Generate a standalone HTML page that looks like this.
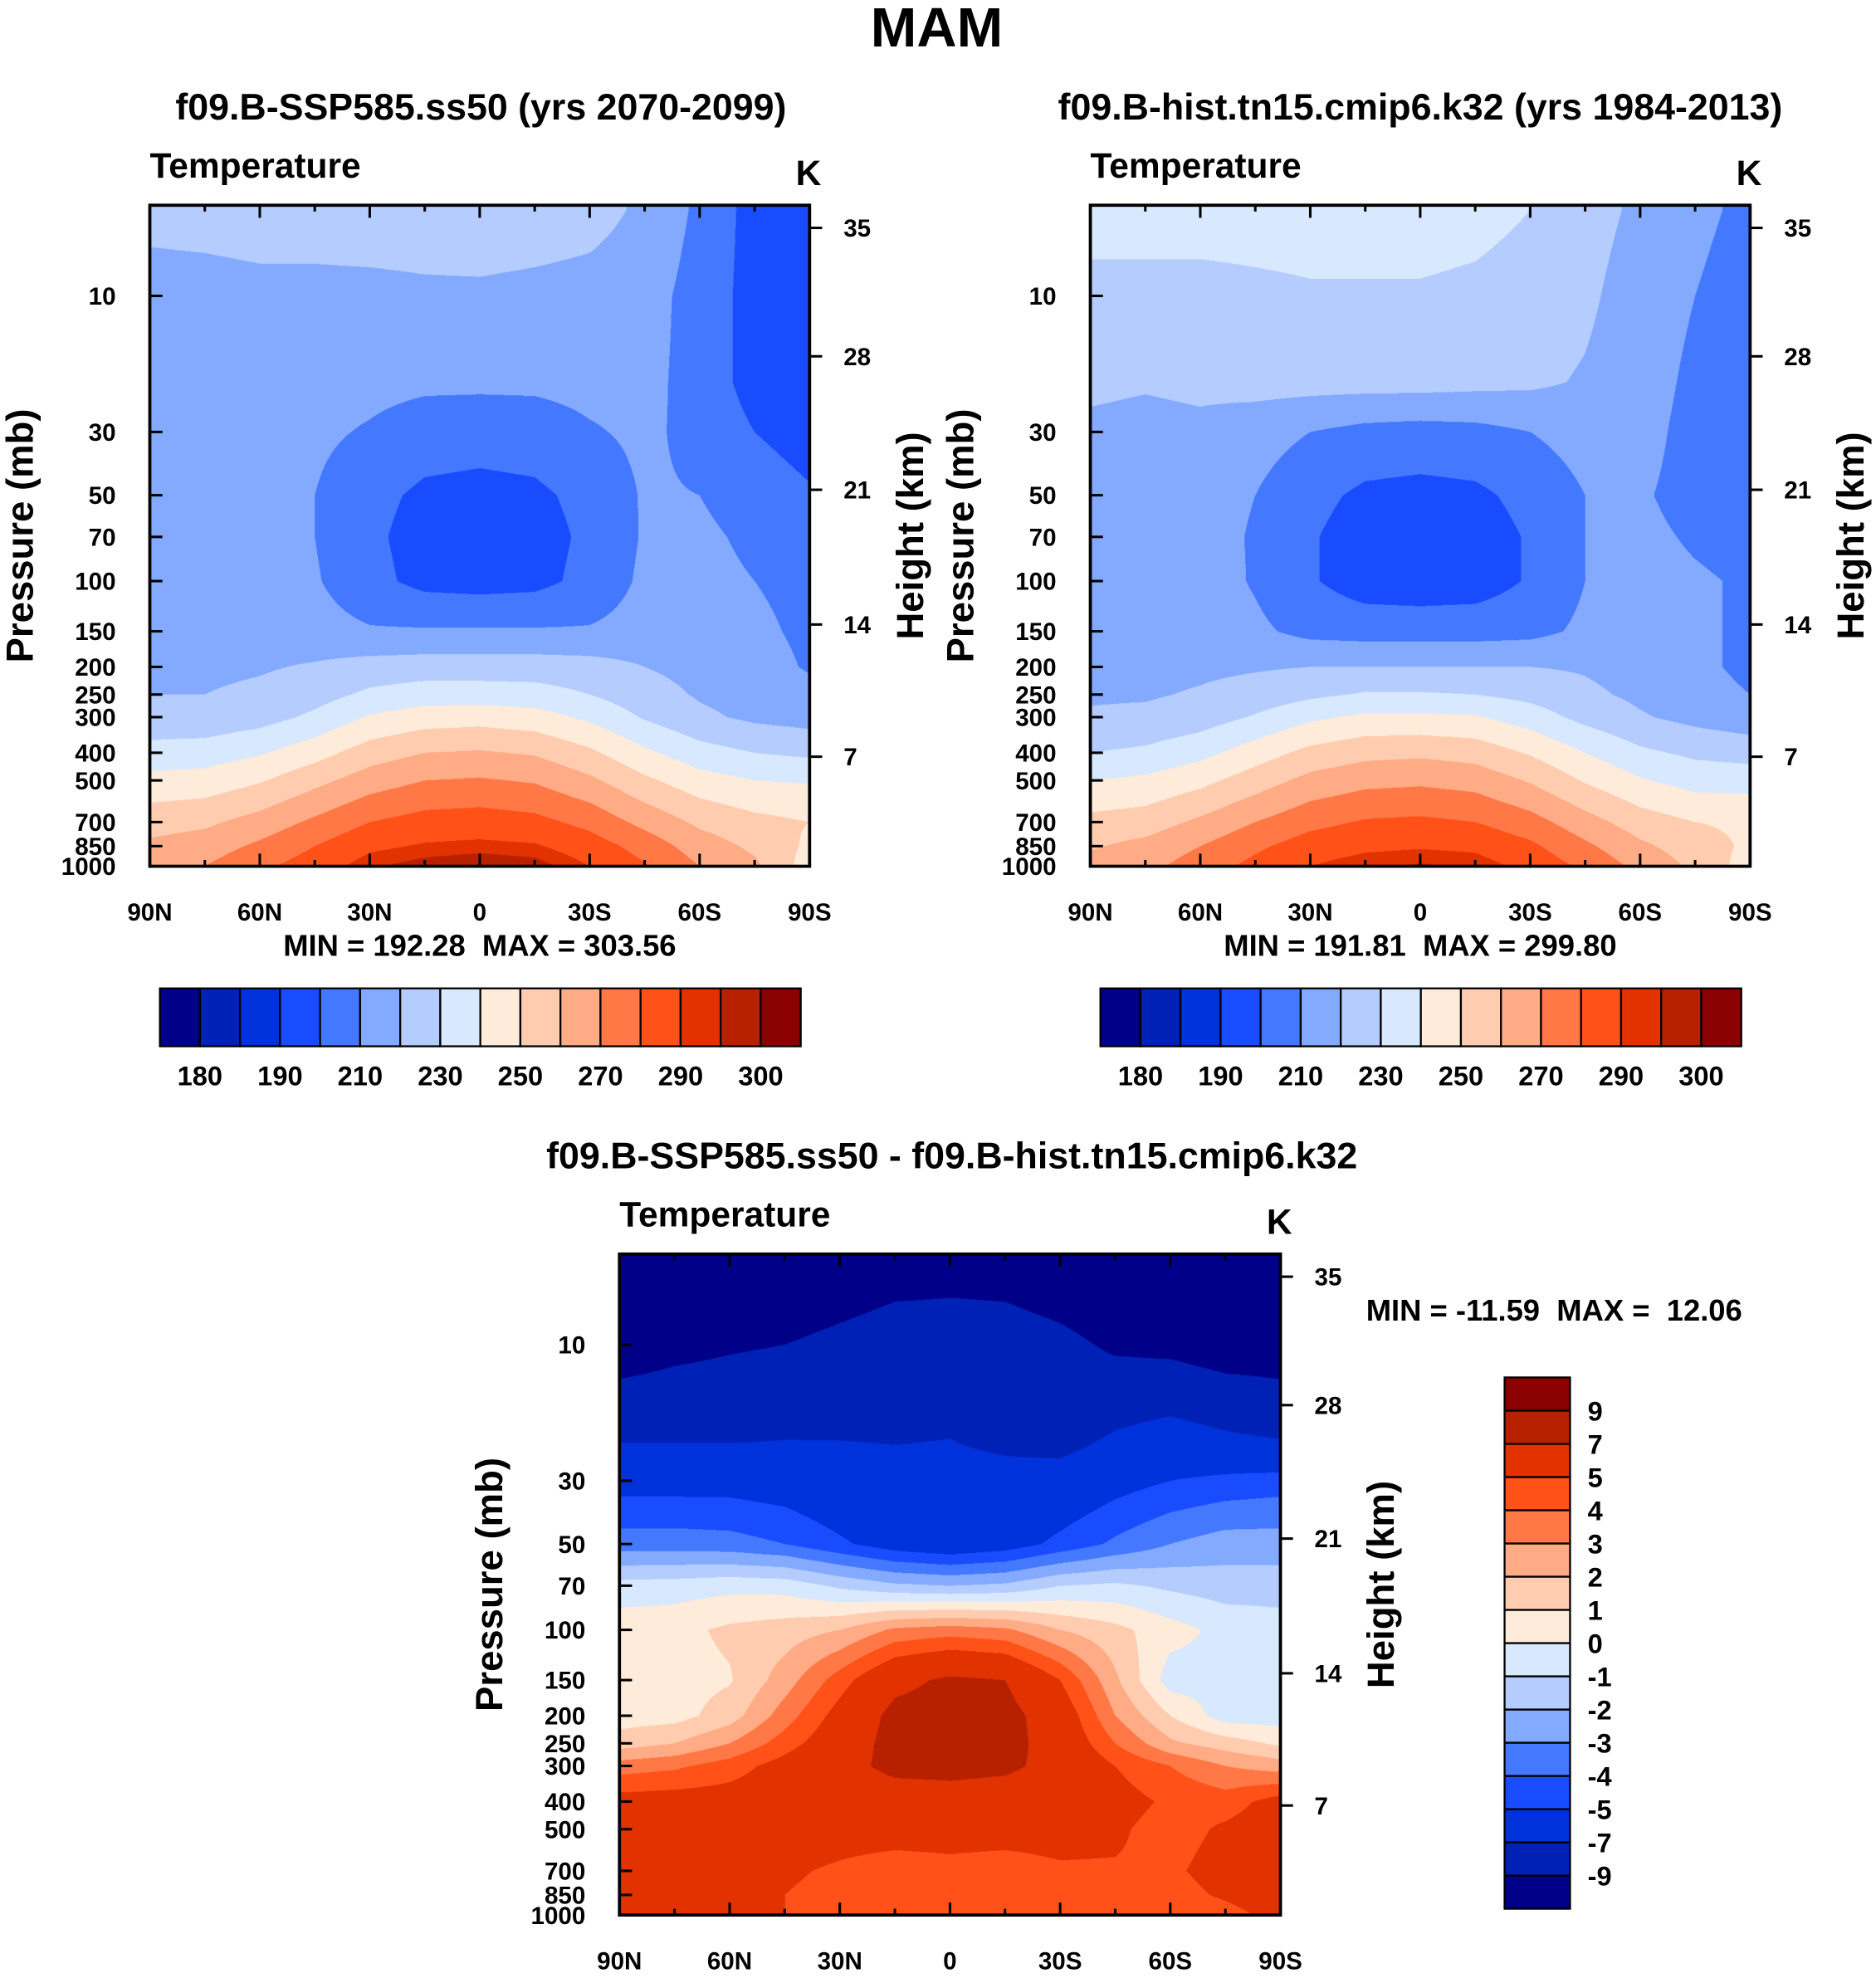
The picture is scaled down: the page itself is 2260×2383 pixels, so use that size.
<!DOCTYPE html>
<html><head><meta charset="utf-8">
<style>
html,body{margin:0;padding:0;background:#fff;}
body{width:2260px;height:2383px;overflow:hidden;position:relative;}
#root{position:absolute;left:0;top:0;width:1490px;height:1571px;transform:scale(1.51678,1.51687);transform-origin:0 0;font-family:"Liberation Sans",sans-serif;font-weight:bold;}
canvas{position:absolute;}
#ov{position:absolute;left:0;top:0;}
</style></head>
<body>
<div id="root">
<canvas id="cA"></canvas>
<canvas id="cB"></canvas>
<canvas id="cD"></canvas>
<svg id="ov" width="1490" height="1571" viewBox="0 0 1490 1571"
 font-family="Liberation Sans, sans-serif" font-weight="bold">
<text x="744" y="37" font-size="44" text-anchor="middle">MAM</text>
<text x="382" y="95" font-size="29.5" text-anchor="middle">f09.B-SSP585.ss50 (yrs 2070-2099)</text>
<text x="1128" y="95" font-size="29.5" text-anchor="middle">f09.B-hist.tn15.cmip6.k32 (yrs 1984-2013)</text>
<text x="756" y="928" font-size="29.5" text-anchor="middle">f09.B-SSP585.ss50 - f09.B-hist.tn15.cmip6.k32</text>
<text x="381" y="759" font-size="24" text-anchor="middle" xml:space="preserve">MIN = 192.28  MAX = 303.56</text>
<text x="1128" y="759" font-size="24" text-anchor="middle" xml:space="preserve">MIN = 191.81  MAX = 299.80</text>
<text x="1085" y="1049" font-size="24" xml:space="preserve">MIN = -11.59  MAX =  12.06</text>
<g id="axes"></g>
</svg>
</div>
<script>
const lats=[90,75,60,45,30,15,0,-15,-30,-45,-60,-75,-90];
const pressures=[5,10,20,30,50,70,100,150,200,250,300,400,500,700,850,1000];
const tempSSP=[
[223,224,225,225,226,226,227,226,224,218,208,196,192],
[216,216,217,217,217,218,218,217,216,214,206,196,193],
[214,214,214,214,213,212,212,212,213,213,206,196,192],
[214,214,213,212,209,205,204,205,209,212,207,200,196],
[215,214,213,210,203,198,197,198,203,211,210,205,201],
[216,215,214,210,202,196,195,196,202,211,212,208,204],
[217,216,215,211,203,197,196,197,203,212,213,210,207],
[219,218,217,214,211,211,211,211,211,214,215,212,208],
[218,218,219,221,224,225,225,225,224,220,217,214,209],
[220,220,222,226,232,235,235,234,230,224,219,216,213],
[223,223,226,232,241,245,246,244,238,229,222,218,216],
[234,235,239,246,255,260,261,259,252,242,234,230,228],
[243,244,249,257,265,270,271,269,262,252,244,240,239],
[256,258,264,272,280,284,285,283,277,267,258,253,250],
[262,265,272,280,288,291,292,291,285,276,265,258,248],
[266,270,278,285,294,298,300.5,298,290,281,270,262,245]];
const tempHist=[
[234,234,234,234,234,234,234,233,230,224,218,212,208],
[227,227,227,228,229,229,229,228,226,222,215,210,206],
[222,221,222,224,224,224,224,223,222,219,214,208,205],
[218,217,218,214,210,207,206,207,210,214,213,207,204],
[216,215,214,210,203,198,197,198,203,210,211,207,205],
[216,215,214,209,201,195,194,195,201,210,212,209,207],
[216,216,215,209,201,195,194,195,201,210,213,211,209],
[217,217,216,212,207,206,206,206,207,212,214,212,208],
[217,217,218,219,220,220,220,220,220,219,216,213,207],
[219,219,221,224,228,231,231,230,227,222,218,215,210],
[221,222,225,231,238,242,242,241,235,227,221,217,214],
[230,232,237,245,253,257,258,256,249,240,232,228,226],
[240,242,247,255,263,267,268,266,259,249,241,236,236],
[253,255,262,270,277,281,282,280,274,264,255,250,248],
[259,263,270,278,285,288,289,288,282,272,262,255,248],
[263,267,275,283,290,294,296,294,287,278,267,258,245]];
const tempDiff=[
[-12,-12,-11.5,-11,-10.5,-10,-10,-10,-10.5,-11,-11.5,-12,-12],
[-10,-9.5,-9.2,-9,-8.5,-8,-7.8,-8,-8.5,-9.3,-9.5,-10,-10],
[-7.5,-7.5,-7.5,-7.3,-7.2,-7.2,-7.1,-7.5,-8,-7,-6.5,-7,-7.5],
[-5.5,-5.5,-5.5,-5.7,-6.2,-6.5,-6.5,-6.5,-6.2,-5.5,-5,-4.7,-4.5],
[-3.5,-3.5,-3.6,-4,-4.8,-5.6,-6,-5.6,-4.7,-3.8,-3,-2.5,-2.5],
[-0.6,-0.5,-0.3,-0.4,-1.2,-1.8,-2,-1.8,-1,-0.8,-1.2,-1.5,-1.5],
[0.6,0.7,1.2,1.5,2,3.2,3.5,3.2,2,1.3,0.4,-0.3,-0.5],
[0.6,0.6,0.9,2.5,4.5,6.5,7.3,7,5,2.2,-0.5,-0.3,-0.5],
[0.5,0.6,1.5,3.5,5.5,7.5,7.8,7.6,6,3,1,-0.5,-0.5],
[1.5,2,3,4.5,6,7.6,7.8,7.6,6.2,4,2.2,1.5,0.8],
[3.5,3.8,4.5,5.5,6.5,7.4,7.5,7.3,6.5,5,4,3,2.5],
[5.5,5.6,5.6,5.8,6,6.2,6.3,6.2,6,5.5,4.8,4.5,5.5],
[5.6,5.6,5.5,5.4,5.3,5.3,5.3,5.3,5.3,5.2,4.5,5.2,5.8],
[5.3,5.1,5.2,5.1,4.9,4.7,4.8,4.7,4.9,4.9,4.8,5.5,6],
[5.5,5.2,5.1,5,4.8,4.6,4.6,4.5,4.6,4.6,4.5,5.2,6],
[7.2,5.8,5.3,5,4.5,4.4,4.4,4.4,4.4,4.3,4.2,4.5,5.5]];
const levelsT=[180,185,190,200,210,220,230,240,250,260,270,280,290,295,300];
const levelsD=[-9,-7,-5,-4,-3,-2,-1,0,1,2,3,4,5,7,9];
const palette=["#000088","#0021b5","#0032db","#1a4cff","#4478ff","#83aaff","#b4ccff","#d7e8ff","#ffebda","#ffccb0","#ffab85","#ff7845","#ff5118","#e13200","#b82100","#8b0000"];
const tickLabelsT=["180","190","210","230","250","270","290","300"];
const tickLabelsD=["-9","-7","-5","-4","-3","-2","-1","0","1","2","3","4","5","7","9"];
const pTicks=[10,30,50,70,100,150,200,250,300,400,500,700,850,1000];
const hTicks=[35,28,21,14,7];
const latTickVals=[90,60,30,0,-30,-60,-90];
const latTickLabels=["90N","60N","30N","0","30S","60S","90S"];
const hTickOffsets=[18,120,226,333,438];

const NS="http://www.w3.org/2000/svg";
const axes=document.getElementById('axes');
function mk(tag,attrs){const e=document.createElementNS(NS,tag);for(const k in attrs)e.setAttribute(k,attrs[k]);axes.appendChild(e);return e;}
function rgb(h){return [parseInt(h.slice(1,3),16),parseInt(h.slice(3,5),16),parseInt(h.slice(5,7),16)];}
const pal=palette.map(rgb);
const PX=226.5;
function yOf(P,p){return P.y0+P.h-PX*Math.log10(1000/p);}
function xOf(P,lat){return P.x0+P.w*(90-lat)/180;}
const lp=pressures.map(p=>Math.log10(p));

function drawField(id,P,data,levels){
  const c=document.getElementById(id);const S=2;
  c.style.left=P.x0+'px';c.style.top=P.y0+'px';c.style.width=P.w+'px';c.style.height=P.h+'px';
  c.width=P.w*S;c.height=P.h*S;
  const ctx=c.getContext('2d');const img=ctx.createImageData(c.width,c.height);
  for(let j=0;j<c.height;j++){
    const yy=P.y0+(j+0.5)/S;
    let L=3-(P.y0+P.h-yy)/PX;
    if(L<lp[0])L=lp[0];
    let k=0;while(k<lp.length-2&&L>lp[k+1])k++;
    const t=(L-lp[k])/(lp[k+1]-lp[k]);
    for(let i=0;i<c.width;i++){
      const fx=((i+0.5)/S)/P.w*(lats.length-1);
      let a=Math.min(Math.floor(fx),lats.length-2);const u=fx-a;
      const v=(1-t)*((1-u)*data[k][a]+u*data[k][a+1])+t*((1-u)*data[k+1][a]+u*data[k+1][a+1]);
      let ci=0;while(ci<levels.length&&v>=levels[ci])ci++;
      const col=pal[ci];const o=(j*c.width+i)*4;
      img.data[o]=col[0];img.data[o+1]=col[1];img.data[o+2]=col[2];img.data[o+3]=255;
    }
  }
  ctx.putImageData(img,0,0);
}

function drawAxes(P,prefix){
  const f=mk('rect',{x:P.x0,y:P.y0,width:P.w,height:P.h,fill:'none',stroke:'#000','stroke-width':2.5});
  
  
  for(let lat=90;lat>=-90;lat-=15){
    const x=xOf(P,lat);const len=(lat%30===0)?10:5;
    mk('line',{x1:x,y1:P.y0,x2:x,y2:P.y0+len,stroke:'#000','stroke-width':2});
    mk('line',{x1:x,y1:P.y0+P.h,x2:x,y2:P.y0+P.h-len,stroke:'#000','stroke-width':2});
  }
  latTickVals.forEach((lat,i)=>{
    const t=mk('text',{x:xOf(P,lat),y:P.y0+P.h+43,'font-size':19.5,'text-anchor':'middle'});
    t.textContent=latTickLabels[i];
    
    
  });
  pTicks.forEach(p=>{
    const y=yOf(P,p);
    mk('line',{x1:P.x0,y1:y,x2:P.x0+10,y2:y,stroke:'#000','stroke-width':2});
    const t=mk('text',{x:P.x0-27,y:y+7,'font-size':19.5,'text-anchor':'end'});
    t.textContent=String(p);
    
    
  });
  hTicks.forEach((h,i)=>{
    const y=P.y0+hTickOffsets[i];
    mk('line',{x1:P.x0+P.w,y1:y,x2:P.x0+P.w+10,y2:y,stroke:'#000','stroke-width':2});
    const t=mk('text',{x:P.x0+P.w+27,y:y+7,'font-size':19.5});
    t.textContent=String(h);
    
    
  });
  const cy=P.y0+P.h/2;
  const yl=mk('text',{x:0,y:0,'font-size':30,'text-anchor':'middle',transform:`translate(${P.x0-93},${cy}) rotate(-90)`});
  yl.textContent='Pressure (mb)';
  
  
  const hl=mk('text',{x:0,y:0,'font-size':30,'text-anchor':'middle',transform:`translate(${P.x0+P.w+90},${cy}) rotate(-90)`});
  hl.textContent='Height (km)';
  
  
  const tl=mk('text',{x:P.x0,y:P.y0-22,'font-size':28});
  tl.textContent='Temperature';
  
  
  const kl=mk('text',{x:P.x0+P.w-11,y:P.y0-16,'font-size':28});
  kl.textContent='K';
  
  
}

function hColorbar(x0,x1,y0,y1,prefix){
  const w=(x1-x0)/palette.length;
  palette.forEach((col,k)=>{
    const r=mk('rect',{x:x0+k*w,y:y0,width:w,height:y1-y0,fill:col,stroke:'#000','stroke-width':1.5});
    
    
  });
  tickLabelsT.forEach((lab,i)=>{
    const t=mk('text',{x:x0+(2*i+1)*w,y:y1+31,'font-size':21.5,'text-anchor':'middle'});
    t.textContent=lab;
    
    
  });
}
function vColorbar(x0,x1,y0,y1){
  const h=(y1-y0)/palette.length;
  palette.forEach((col,k)=>{
    const r=mk('rect',{x:x0,y:y1-(k+1)*h,width:x1-x0,height:h,fill:col,stroke:'#000','stroke-width':1.5});
    
    
  });
  tickLabelsD.forEach((lab,i)=>{
    const t=mk('text',{x:x1+14,y:y1-(i+1)*h+8,'font-size':21.5});
    t.textContent=lab;
    
    
  });
}

const PA={x0:119,y0:163,w:524,h:525};
const PB={x0:866,y0:163,w:524,h:525};
const PD={x0:492,y0:996,w:525,h:525};
drawField('cA',PA,tempSSP,levelsT);
drawField('cB',PB,tempHist,levelsT);
drawField('cD',PD,tempDiff,levelsD);
drawAxes(PA,'left');
drawAxes(PB,'right');
drawAxes(PD,'difference');
hColorbar(127,636,785,831,'left');
hColorbar(874,1383,785,831,'right');
vColorbar(1195,1247,1094,1516);
</script>
</body></html>
